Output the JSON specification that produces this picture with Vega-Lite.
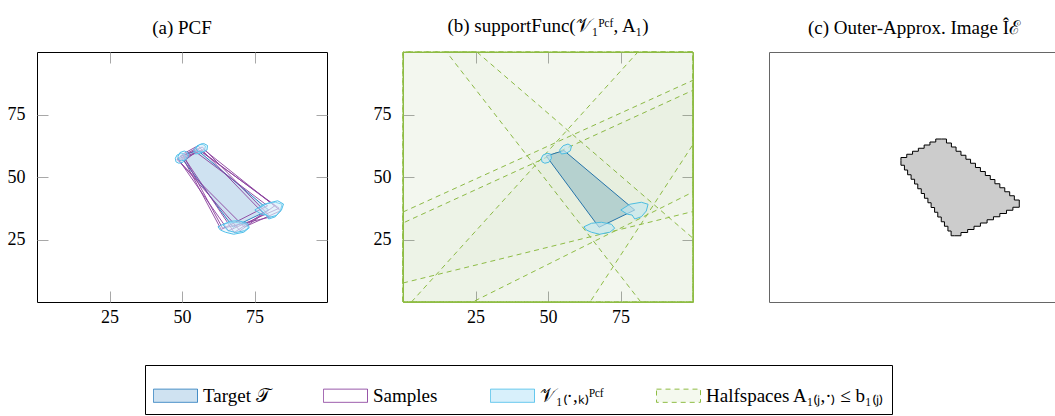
{
"$schema":"https://vega.github.io/schema/vega-lite/v6.json",
"autosize":{"type":"none"},
"padding":{"left":37,"top":52,"right":1018,"bottom":364},
"background":"white",
"config":{
 "font":"Liberation Serif",
 "view":{"stroke":"black","strokeWidth":1},
 "axis":{"labelFont":"Liberation Serif","labelFontSize":18,"labelColor":"black","tickColor":"#a8a8a8","tickSize":-11,"tickWidth":1,"domain":false,"grid":false,"title":null,"zindex":1},
 "title":{"font":"Liberation Serif","fontSize":19,"fontWeight":"normal","color":"black","offset":14}
},
"datasets":{
 "target":[{"x":49.4,"y":58.4},{"x":55.5,"y":60.6},{"x":79.9,"y":36.8},{"x":67.6,"y":29.9}],
 "samples":[
  {"id":"s1","x":48.5,"y":57.5},{"id":"s1","x":55,"y":61.5},{"id":"s1","x":83.5,"y":37.5},{"id":"s1","x":66,"y":28.5},
  {"id":"s2","x":50.5,"y":58.5},{"id":"s2","x":57,"y":62},{"id":"s2","x":80.5,"y":34},{"id":"s2","x":64,"y":29.5},
  {"id":"s3","x":49,"y":56.5},{"id":"s3","x":56.5,"y":60.5},{"id":"s3","x":82,"y":38.5},{"id":"s3","x":70,"y":28.5},
  {"id":"s4","x":50,"y":59},{"id":"s4","x":55.5,"y":62.5},{"id":"s4","x":78,"y":35.5},{"id":"s4","x":68,"y":27.8},
  {"id":"s5","x":48.3,"y":57},{"id":"s5","x":57.5,"y":61},{"id":"s5","x":84,"y":36.5},{"id":"s5","x":71.5,"y":30},
  {"id":"s6","x":50.8,"y":56.5},{"id":"s6","x":54.8,"y":60},{"id":"s6","x":79.5,"y":38.5},{"id":"s6","x":63.5,"y":29}
 ],
 "vsets":[
  {"id":"TL0","k":0,"x":47.7,"y":57.5},{"id":"TL0","k":0,"x":48.3,"y":58.8},{"id":"TL0","k":0,"x":49.7,"y":59.5},{"id":"TL0","k":0,"x":50.9,"y":59.2},{"id":"TL0","k":0,"x":51.2,"y":57.5},{"id":"TL0","k":0,"x":50.3,"y":55.9},{"id":"TL0","k":0,"x":48.9,"y":55.5},{"id":"TL0","k":0,"x":47.9,"y":56.1},
  {"id":"TR0","k":0,"x":54.0,"y":60.8},{"id":"TR0","k":0,"x":55.2,"y":62.5},{"id":"TR0","k":0,"x":56.9,"y":63.2},{"id":"TR0","k":0,"x":58.1,"y":62.4},{"id":"TR0","k":0,"x":57.7,"y":60.5},{"id":"TR0","k":0,"x":56.3,"y":59.5},{"id":"TR0","k":0,"x":54.6,"y":59.2},
  {"id":"R0","k":0,"x":75.1,"y":36.8},{"id":"R0","k":0,"x":78.2,"y":39.1},{"id":"R0","k":0,"x":82.2,"y":39.9},{"id":"R0","k":0,"x":84.5,"y":39.1},{"id":"R0","k":0,"x":83.9,"y":36.4},{"id":"R0","k":0,"x":82.2,"y":34.1},{"id":"R0","k":0,"x":79.9,"y":33.2},{"id":"R0","k":0,"x":79.0,"y":34.8},{"id":"R0","k":0,"x":77.4,"y":35.1},
  {"id":"B0","k":0,"x":62.4,"y":30.1},{"id":"B0","k":0,"x":65.0,"y":31.5},{"id":"B0","k":0,"x":68.4,"y":31.9},{"id":"B0","k":0,"x":71.9,"y":31.1},{"id":"B0","k":0,"x":73.0,"y":29.5},{"id":"B0","k":0,"x":71.3,"y":27.9},{"id":"B0","k":0,"x":67.8,"y":27.1},{"id":"B0","k":0,"x":65.0,"y":27.9},{"id":"B0","k":0,"x":63.2,"y":28.8},
  {"id":"TL1","k":1,"x":48.6,"y":58.2},{"id":"TL1","k":1,"x":49.3,"y":59.8},{"id":"TL1","k":1,"x":50.8,"y":60.4},{"id":"TL1","k":1,"x":52.0,"y":59.8},{"id":"TL1","k":1,"x":52.2,"y":58.2},{"id":"TL1","k":1,"x":51.2,"y":56.8},{"id":"TL1","k":1,"x":49.8,"y":56.5},{"id":"TL1","k":1,"x":48.7,"y":57.1},
  {"id":"TR1","k":1,"x":54.8,"y":61.5},{"id":"TR1","k":1,"x":56.0,"y":63.0},{"id":"TR1","k":1,"x":57.5,"y":63.4},{"id":"TR1","k":1,"x":58.8,"y":62.6},{"id":"TR1","k":1,"x":58.6,"y":60.8},{"id":"TR1","k":1,"x":57.2,"y":60.0},{"id":"TR1","k":1,"x":55.5,"y":60.1},
  {"id":"R1","k":1,"x":76.5,"y":37.5},{"id":"R1","k":1,"x":79.5,"y":39.5},{"id":"R1","k":1,"x":83.0,"y":40.5},{"id":"R1","k":1,"x":85.0,"y":39.2},{"id":"R1","k":1,"x":84.3,"y":36.8},{"id":"R1","k":1,"x":82.5,"y":34.6},{"id":"R1","k":1,"x":80.3,"y":33.9},{"id":"R1","k":1,"x":78.5,"y":35.3},
  {"id":"B1","k":1,"x":64.2,"y":30.8},{"id":"B1","k":1,"x":66.5,"y":32.3},{"id":"B1","k":1,"x":69.5,"y":32.5},{"id":"B1","k":1,"x":72.5,"y":31.5},{"id":"B1","k":1,"x":73.2,"y":29.8},{"id":"B1","k":1,"x":71.5,"y":28.5},{"id":"B1","k":1,"x":68.5,"y":27.8},{"id":"B1","k":1,"x":65.8,"y":28.6}
 ],
 "hs":[
  {"id":"A","x":15,"y":100},{"id":"A","x":100,"y":100},{"id":"A","x":100,"y":0},{"id":"A","x":82,"y":0},
  {"id":"B","x":0,"y":0},{"id":"B","x":0,"y":100},{"id":"B","x":25.5,"y":100},{"id":"B","x":100,"y":25.5},{"id":"B","x":100,"y":0},
  {"id":"C1","x":0,"y":0},{"id":"C1","x":0,"y":36},{"id":"C1","x":100,"y":88.7},{"id":"C1","x":100,"y":0},
  {"id":"C2","x":0,"y":0},{"id":"C2","x":0,"y":31.6},{"id":"C2","x":100,"y":84.7},{"id":"C2","x":100,"y":0},
  {"id":"E","x":2.9,"y":0},{"id":"E","x":81,"y":100},{"id":"E","x":100,"y":100},{"id":"E","x":100,"y":0},
  {"id":"F","x":0,"y":0},{"id":"F","x":64.5,"y":0},{"id":"F","x":100,"y":63},{"id":"F","x":100,"y":100},{"id":"F","x":0,"y":100},
  {"id":"G1","x":0,"y":7.6},{"id":"G1","x":100,"y":36.2},{"id":"G1","x":100,"y":100},{"id":"G1","x":0,"y":100},
  {"id":"G2","x":0,"y":0},{"id":"G2","x":24,"y":0},{"id":"G2","x":100,"y":44},{"id":"G2","x":100,"y":100},{"id":"G2","x":0,"y":100}
 ],
 "grid":[
  {"x":45.5,"y":56.6},{"x":45.5,"y":57.8},{"x":47.5,"y":57.8},{"x":47.5,"y":59.1},{"x":49.5,"y":59.1},{"x":49.5,"y":60.3},{"x":51.5,"y":60.3},{"x":51.5,"y":61.5},{"x":53.5,"y":61.5},{"x":53.5,"y":62.8},{"x":55.5,"y":62.8},{"x":55.5,"y":64.0},{"x":57.5,"y":64.0},{"x":57.5,"y":65.2},{"x":59.5,"y":65.2},
  {"x":61.2,"y":65.2},{"x":61.2,"y":63.6},{"x":62.9,"y":63.6},{"x":62.9,"y":62.0},{"x":64.5,"y":62.0},{"x":64.5,"y":60.3},{"x":66.2,"y":60.3},{"x":66.2,"y":58.7},{"x":67.9,"y":58.7},{"x":67.9,"y":57.1},{"x":69.5,"y":57.1},{"x":69.5,"y":55.5},{"x":71.2,"y":55.5},{"x":71.2,"y":53.8},{"x":72.9,"y":53.8},{"x":72.9,"y":52.2},{"x":74.6,"y":52.2},{"x":74.6,"y":50.6},{"x":76.3,"y":50.6},{"x":76.3,"y":49.0},{"x":77.9,"y":49.0},{"x":77.9,"y":47.3},{"x":79.6,"y":47.3},{"x":79.6,"y":45.7},{"x":81.3,"y":45.7},{"x":81.3,"y":44.1},{"x":83.0,"y":44.1},{"x":83.0,"y":42.5},{"x":84.6,"y":42.5},{"x":84.6,"y":40.8},{"x":86.3,"y":40.8},{"x":86.3,"y":39.2},
  {"x":86.3,"y":37.9},{"x":84.1,"y":37.9},{"x":84.1,"y":36.7},{"x":81.9,"y":36.7},{"x":81.9,"y":35.4},{"x":79.6,"y":35.4},{"x":79.6,"y":34.1},{"x":77.4,"y":34.1},{"x":77.4,"y":32.9},{"x":75.2,"y":32.9},{"x":75.2,"y":31.6},{"x":72.9,"y":31.6},{"x":72.9,"y":30.3},{"x":70.7,"y":30.3},{"x":70.7,"y":29.0},{"x":68.5,"y":29.0},{"x":68.5,"y":27.8},{"x":66.2,"y":27.8},{"x":66.2,"y":26.5},{"x":64.0,"y":26.5},
  {"x":62.8,"y":26.5},{"x":62.8,"y":28.4},{"x":61.7,"y":28.4},{"x":61.7,"y":30.3},{"x":60.5,"y":30.3},{"x":60.5,"y":32.1},{"x":59.4,"y":32.1},{"x":59.4,"y":34.0},{"x":58.2,"y":34.0},{"x":58.2,"y":35.9},{"x":57.1,"y":35.9},{"x":57.1,"y":37.8},{"x":55.9,"y":37.8},{"x":55.9,"y":39.7},{"x":54.8,"y":39.7},{"x":54.8,"y":41.5},{"x":53.6,"y":41.5},{"x":53.6,"y":43.4},{"x":52.5,"y":43.4},{"x":52.5,"y":45.3},{"x":51.3,"y":45.3},{"x":51.3,"y":47.2},{"x":50.2,"y":47.2},{"x":50.2,"y":49.1},{"x":49.0,"y":49.1},{"x":49.0,"y":50.9},{"x":47.8,"y":50.9},{"x":47.8,"y":52.8},{"x":46.7,"y":52.8},{"x":46.7,"y":54.7},{"x":45.5,"y":54.7}
 ]
},
"spacing":76,
"bounds":"flush",
"hconcat":[
 {
  "width":290,"height":250,
  "title":{"text":"(a) PCF"},
  "resolve":{"axis":{"x":"independent","y":"independent"}},
  "layer":[
   {"data":{"name":"target"},
    "mark":{"type":"line","interpolate":"linear-closed","fill":"#cfe2f1","strokeWidth":1},
    "encoding":{
     "x":{"field":"x","type":"quantitative","scale":{"domain":[0,100],"nice":false},"axis":{"orient":"bottom","values":[25,50,75],"labelPadding":17}},
     "y":{"field":"y","type":"quantitative","scale":{"domain":[0,100],"nice":false},"axis":{"orient":"left","values":[25,50,75],"labelPadding":23}},
     "order":{"value":null},
     "stroke":{"datum":"Target","type":"nominal",
      "scale":{"domain":["Target","Samples","V","Halfspaces"],"range":["#2f7fbf","#8a3f9d","#52c0ea","#8fbd45"]},
      "legend":{"title":null,"orient":"none","legendX":108,"legendY":313,"direction":"horizontal",
       "symbolType":"M-1,-0.3H1V0.3H-1Z","symbolSize":1936,"symbolStrokeWidth":1,
       "labelFont":"Liberation Serif","labelFontSize":19,"labelColor":"black","labelOffset":5,"labelLimit":400,
       "columnPadding":50,"strokeColor":"black","fillColor":"white","padding":8,
       "labelExpr":"datum.value == 'Target' ? 'Target 𝒯' : datum.value == 'Samples' ? 'Samples' : datum.value == 'V' ? '𝒱₁₍·,ₖ₎ᴾᶜᶠ' : 'Halfspaces A₁₍ⱼ,·₎ ≤ b₁₍ⱼ₎'",
       "encoding":{"symbols":{
        "fill":{"condition":[{"test":"datum.value === 'Samples'","value":"white"},{"test":"datum.value === 'V'","value":"#d8f0fb"},{"test":"datum.value === 'Halfspaces'","value":"#f4f9ee"}],"value":"#cfe2f1"},
        "strokeDash":{"condition":{"test":"datum.value === 'Halfspaces'","value":[5,4]},"value":[1,0]}
       }}
      }}
    }},
   {"data":{"name":"samples"},
    "mark":{"type":"line","interpolate":"linear-closed","stroke":"#8a3f9d","strokeWidth":0.9},
    "encoding":{
     "x":{"field":"x","type":"quantitative","scale":{"domain":[0,100],"nice":false},"axis":{"orient":"top","values":[25,50,75],"labels":false}},
     "y":{"field":"y","type":"quantitative","scale":{"domain":[0,100],"nice":false},"axis":{"orient":"right","values":[25,50,75],"labels":false}},
     "detail":{"field":"id"},
     "order":{"value":null}
    }},
   {"data":{"name":"vsets"},
    "mark":{"type":"line","interpolate":"linear-closed","stroke":"#52c0ea","strokeWidth":1,"fill":"#d4eefa","fillOpacity":0.4},
    "encoding":{
     "x":{"field":"x","type":"quantitative","axis":null},
     "y":{"field":"y","type":"quantitative","axis":null},
     "detail":{"field":"id"},
     "order":{"value":null}
    }}
  ]
 },
 {
  "width":290,"height":250,
  "title":{"text":"(b) supportFunc(𝒱₁ᴾᶜᶠ, A₁)"},
  "view":{"stroke":"#8fbd45"},
  "resolve":{"axis":{"x":"independent","y":"independent"}},
  "layer":[
   {"data":{"name":"hs"},
    "mark":{"type":"line","interpolate":"linear-closed","fill":"#8fbd45","fillOpacity":0.025,"stroke":"#8fbd45","strokeWidth":1,"strokeDash":[5,4]},
    "encoding":{
     "x":{"field":"x","type":"quantitative","scale":{"domain":[0,100],"nice":false},"axis":{"orient":"bottom","values":[25,50,75],"labelPadding":17}},
     "y":{"field":"y","type":"quantitative","scale":{"domain":[0,100],"nice":false},"axis":{"orient":"left","values":[25,50,75],"labelPadding":23}},
     "detail":{"field":"id"},
     "order":{"value":null}
    }},
   {"data":{"name":"target"},
    "mark":{"type":"line","interpolate":"linear-closed","fill":"#b5d1cf","stroke":"#2775aa","strokeWidth":1},
    "encoding":{
     "x":{"field":"x","type":"quantitative","axis":{"orient":"top","values":[25,50,75],"labels":false}},
     "y":{"field":"y","type":"quantitative","axis":{"orient":"right","values":[25,50,75],"labels":false}},
     "order":{"value":null}
    }},
   {"data":{"name":"vsets"},
    "transform":[{"filter":"datum.k == 0"}],
    "mark":{"type":"line","interpolate":"linear-closed","stroke":"#4dbde0","strokeWidth":1,"fill":"#c3e6ef","fillOpacity":0.65},
    "encoding":{
     "x":{"field":"x","type":"quantitative","axis":null},
     "y":{"field":"y","type":"quantitative","axis":null},
     "detail":{"field":"id"},
     "order":{"value":null}
    }}
  ]
 },
 {
  "width":290,"height":250,
  "title":{"text":"(c) Outer-Approx. Image Îℰ"},
  "view":{"stroke":"#666666"},
  "data":{"name":"grid"},
  "mark":{"type":"line","interpolate":"linear-closed","fill":"#cccccc","stroke":"black","strokeWidth":1},
  "encoding":{
   "x":{"field":"x","type":"quantitative","scale":{"domain":[0,100],"nice":false},"axis":null},
   "y":{"field":"y","type":"quantitative","scale":{"domain":[0,100],"nice":false},"axis":null},
   "order":{"value":null}
  }
 }
]
}
